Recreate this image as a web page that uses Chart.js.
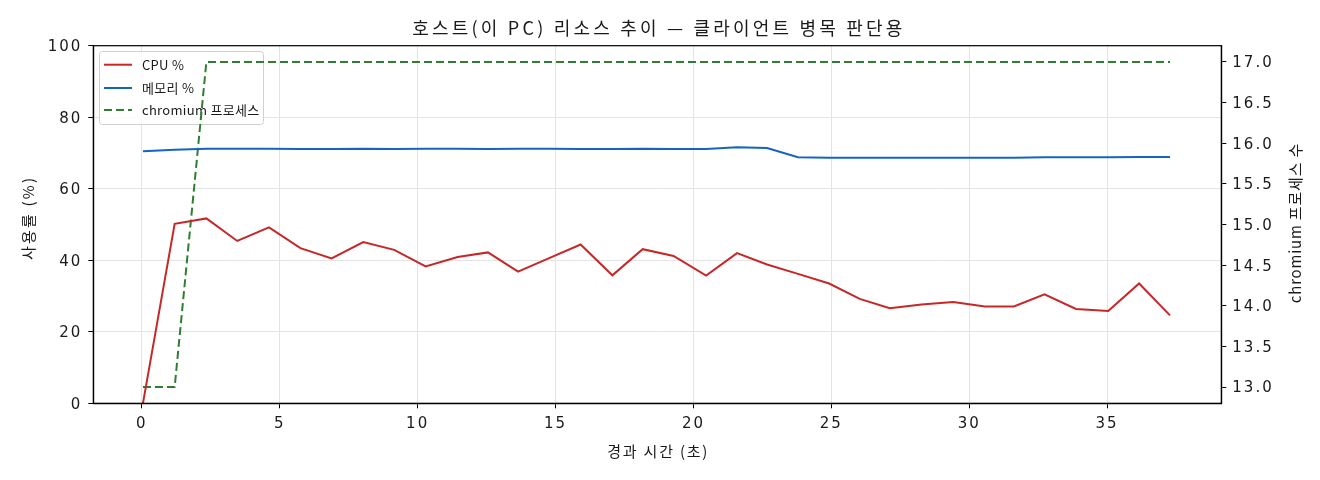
<!DOCTYPE html>
<html>
<head>
<meta charset="utf-8">
<script src="https://cdn.jsdelivr.net/npm/chart.js@4.4.1/dist/chart.umd.min.js"></script>
<style>
  html, body { margin: 0; padding: 0; background: #fff; }
  #wrap { width: 1320px; height: 480px; position: relative; }
</style>
</head>
<body>
<div id="wrap"><canvas id="c" width="1320" height="480"></canvas></div>
<script>
// ---- data ----
const titleText = '호스트(이 PC) 리소스 추이 — 클라이언트 병목 판단용';
const xTitle = '경과 시간 (초)';
const yLeftTitle = '사용률 (%)';
const yRightTitle = 'chromium 프로세스 수';

const elapsed = [0.04, 1.19, 2.34, 3.46, 4.61, 5.75, 6.88, 8.03, 9.15, 10.29,
  11.45, 12.55, 13.64, 14.77, 15.91, 17.06, 18.16, 19.28, 20.46, 21.58,
  22.67, 23.79, 24.92, 26.03, 27.12, 28.27, 29.42, 30.57, 31.62, 32.73,
  33.87, 35.04, 36.16, 37.28];
const cpu = [0, 50.2, 51.7, 45.4, 49.2, 43.4, 40.5, 45.1, 42.9, 38.3,
  40.9, 42.2, 36.8, 40.6, 44.4, 35.8, 43.1, 41.2, 35.7, 42.0,
  38.8, 36.2, 33.5, 29.2, 26.6, 27.6, 28.3, 27.1, 27.1, 30.5,
  26.4, 25.8, 33.5, 24.6];
const memory = [70.5, 70.9, 71.2, 71.2, 71.2, 71.1, 71.1, 71.2, 71.1, 71.2,
  71.2, 71.1, 71.2, 71.2, 71.1, 71.1, 71.2, 71.1, 71.1, 71.6,
  71.4, 68.8, 68.7, 68.7, 68.7, 68.7, 68.7, 68.7, 68.7, 68.8,
  68.8, 68.8, 68.9, 68.9];
const chromium = [13, 13, 17, 17, 17, 17, 17, 17, 17, 17,
  17, 17, 17, 17, 17, 17, 17, 17, 17, 17,
  17, 17, 17, 17, 17, 17, 17, 17, 17, 17,
  17, 17, 17, 17];
const seriesLabels = ['CPU %', '메모리 %', 'chromium 프로세스'];

const xTicks = [0, 5, 10, 15, 20, 25, 30, 35];
const yLeftTicks = [0, 20, 40, 60, 80, 100];
const yRightTicks = [13.0, 13.5, 14.0, 14.5, 15.0, 15.5, 16.0, 16.5, 17.0];

// ---- styling ----
const FONT = "'Noto Sans CJK KR', 'Noto Sans', sans-serif";
const TICKFONT = "'DejaVu Sans', 'Noto Sans CJK KR', sans-serif";
const TXT = '#1a1a1a';
const GRID = '#e4e4e4';
const colors = ['#c62828', '#1565c0', '#2e7d32'];

const toXY = (ys) => ys.map((y, i) => ({ x: elapsed[i], y: y }));
const fixTicks = (arr) => (scale) => { scale.ticks = arr.map(v => ({ value: v })); };

function spacedText(ctx, text, x, y, font, spacing) {
  ctx.save();
  ctx.font = font;
  if ('letterSpacing' in ctx) ctx.letterSpacing = spacing + 'px';
  ctx.fillText(text, x + (ctx.textAlign === 'center' ? spacing / 2 : 0), y);
  ctx.restore();
}

const decor = {
  id: 'decor',
  beforeDraw(chart) {
    if ('letterSpacing' in chart.ctx) chart.ctx.letterSpacing = '2px';
  },
  beforeDatasetsDraw(chart) {
    const ctx = chart.ctx;
    ctx.save();
    const bx = 99, by = 51, bw = 164, bh = 73;
    ctx.fillStyle = 'rgba(255,255,255,0.85)';
    ctx.strokeStyle = '#d0d0d0';
    ctx.lineWidth = 1;
    ctx.beginPath();
    if (ctx.roundRect) ctx.roundRect(bx + 0.5, by + 0.5, bw, bh, 3); else ctx.rect(bx + 0.5, by + 0.5, bw, bh);
    ctx.fill();
    ctx.stroke();
    const rows = [64.7, 88, 110];
    ctx.textAlign = 'left';
    ctx.textBaseline = 'middle';
    chart.data.datasets.forEach((ds, i) => {
      ctx.strokeStyle = ds.borderColor;
      ctx.lineWidth = 2;
      ctx.setLineDash(ds.borderDash || []);
      ctx.beginPath();
      ctx.moveTo(104, rows[i]);
      ctx.lineTo(132, rows[i]);
      ctx.stroke();
      ctx.setLineDash([]);
      ctx.fillStyle = TXT;
      spacedText(ctx, ds.label, 142, rows[i], '13px ' + FONT, 0.3);
    });
    ctx.restore();
  },
  afterDraw(chart) {
    const ctx = chart.ctx;
    const a = chart.chartArea;
    ctx.save();
    ctx.strokeStyle = '#000';
    ctx.lineWidth = 1.2;
    ctx.strokeRect(a.left, a.top, a.right - a.left, a.bottom - a.top);
    ctx.fillStyle = TXT;
    ctx.textAlign = 'center';
    ctx.textBaseline = 'middle';
    const cx = (a.left + a.right) / 2;
    spacedText(ctx, titleText, cx, 28.5, '18px ' + FONT, 3.2);
    spacedText(ctx, xTitle, cx, 451, '15px ' + FONT, 1.8);
    ctx.save();
    ctx.translate(28, 219);
    ctx.rotate(-Math.PI / 2);
    spacedText(ctx, yLeftTitle, 0, 0, '15px ' + FONT, 2.2);
    ctx.restore();
    ctx.save();
    ctx.translate(1295.5, 223.5);
    ctx.rotate(-Math.PI / 2);
    spacedText(ctx, yRightTitle, 0, 0, '15px ' + FONT, 0.8);
    ctx.restore();
    ctx.restore();
  }
};

const tickFont = { family: TICKFONT, size: 15 };

new Chart(document.getElementById('c'), {
  type: 'line',
  data: {
    datasets: [
      { label: seriesLabels[0], data: toXY(cpu), yAxisID: 'y', borderColor: colors[0], borderWidth: 2 },
      { label: seriesLabels[1], data: toXY(memory), yAxisID: 'y', borderColor: colors[1], borderWidth: 2 },
      { label: seriesLabels[2], data: toXY(chromium), yAxisID: 'y1', borderColor: colors[2], borderWidth: 2, borderDash: [8, 4] }
    ]
  },
  options: {
    responsive: false,
    animation: false,
    devicePixelRatio: 1,
    layout: { padding: { top: 45.7, left: 0, right: 0, bottom: 0 } },
    elements: { point: { radius: 0 }, line: { tension: 0, borderCapStyle: 'butt' } },
    plugins: { legend: { display: false }, title: { display: false }, tooltip: { enabled: false } },
    scales: {
      x: {
        type: 'linear', min: -1.76, max: 39.14,
        afterBuildTicks: fixTicks(xTicks),
        afterFit: (s) => { s.height = 480 - 403.3; },
        grid: { color: GRID, lineWidth: 1, tickColor: '#000', tickLength: 5, drawTicks: true },
        border: { display: true, color: '#000', width: 1.2 },
        ticks: { color: TXT, font: tickFont, padding: 7, maxRotation: 0, autoSkip: false }
      },
      y: {
        type: 'linear', position: 'left', min: 0, max: 100,
        afterBuildTicks: fixTicks(yLeftTicks),
        afterFit: (s) => { s.width = 93.3; },
        grid: { color: GRID, lineWidth: 1, tickColor: '#000', tickLength: 5, drawTicks: true },
        border: { display: true, color: '#000', width: 1.2 },
        ticks: { color: TXT, font: tickFont, padding: 6, labelOffset: 1.5, autoSkip: false }
      },
      y1: {
        type: 'linear', position: 'right', min: 12.8, max: 17.2,
        afterBuildTicks: fixTicks(yRightTicks),
        afterFit: (s) => { s.width = 1320 - 1221.3; },
        grid: { drawOnChartArea: false, tickColor: '#000', tickLength: 5, drawTicks: true },
        border: { display: true, color: '#000', width: 1.2 },
        ticks: { color: TXT, font: tickFont, padding: 6, labelOffset: 1.5, autoSkip: false,
                 callback: (v) => Number(v).toFixed(1) }
      }
    }
  },
  plugins: [decor]
});
</script>
</body>
</html>
